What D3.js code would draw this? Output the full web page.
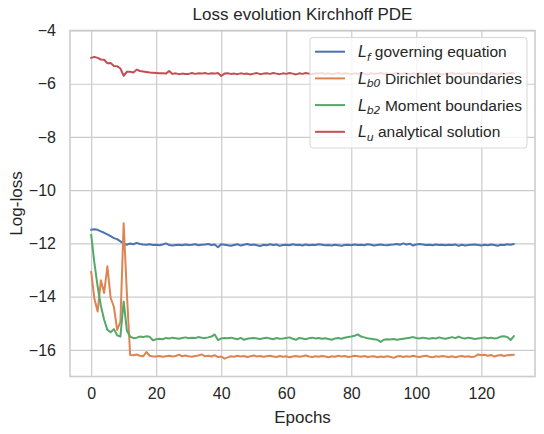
<!DOCTYPE html>
<html>
<head>
<meta charset="utf-8">
<script src="https://cdn.jsdelivr.net/npm/d3@7"></script>
<style>
  body { margin: 0; background: #fff; }
  svg text { font-family: "Liberation Sans", Arial, sans-serif; fill: #262626; }
  .grid line { stroke: #cccccc; stroke-width: 1.2; }
</style>
</head>
<body>
<svg id="chart" width="544" height="434"></svg>
<script>
/* Dati: log-loss per epoca (0..130) */

const epochs = d3.range(0, 131);

const lossLf = [
  -11.49,-11.47,-11.49,-11.55,-11.60,-11.66,-11.73,-11.80,-11.84,-11.92,
  -12.00,-12.05,-12.00,-12.03,-11.98,-12.02,-12.04,-12.05,-12.03,-12.06,
  -12.05,-12.07,-12.04,-12.00,-12.06,-12.08,-12.06,-12.05,-12.07,-12.04,
  -12.06,-12.05,-12.03,-12.07,-12.05,-12.04,-12.02,-12.06,-12.04,-12.14,
  -12.03,-12.05,-12.07,-12.09,-12.06,-12.03,-12.08,-12.05,-12.02,-12.06,
  -12.04,-12.07,-12.10,-12.05,-12.07,-12.03,-12.06,-12.04,-12.09,-12.06,
  -12.05,-12.07,-12.03,-12.06,-12.05,-12.08,-12.04,-12.07,-12.05,-12.06,
  -12.03,-12.05,-12.07,-12.06,-12.08,-12.05,-12.07,-12.09,-12.06,-12.05,
  -12.07,-12.04,-12.06,-12.05,-12.07,-12.03,-12.05,-12.08,-12.06,-12.04,
  -12.06,-12.07,-12.05,-12.04,-12.02,-12.05,-12.00,-12.04,-12.01,-12.08,
  -12.04,-12.02,-12.04,-12.06,-12.05,-12.07,-12.04,-12.06,-12.05,-12.07,
  -12.05,-12.06,-12.04,-12.09,-12.05,-12.08,-12.06,-12.05,-12.04,-12.06,
  -12.08,-12.05,-12.07,-12.04,-12.06,-12.09,-12.05,-12.06,-12.03,-12.05,
  -12.02
];

const lossLb0 = [
  -13.06,-14.08,-14.56,-13.38,-13.86,-12.86,-14.05,-14.38,-15.25,-14.95,
  -11.24,-13.90,-16.19,-16.20,-16.17,-16.22,-16.24,-16.08,-16.22,-16.25,
  -16.25,-16.23,-16.26,-16.24,-16.22,-16.25,-16.23,-16.18,-16.24,-16.21,
  -16.24,-16.26,-16.23,-16.21,-16.17,-16.24,-16.22,-16.25,-16.20,-16.27,
  -16.25,-16.33,-16.28,-16.24,-16.26,-16.22,-16.25,-16.23,-16.27,-16.24,
  -16.21,-16.25,-16.23,-16.26,-16.24,-16.22,-16.25,-16.27,-16.23,-16.26,
  -16.24,-16.28,-16.25,-16.23,-16.26,-16.24,-16.21,-16.25,-16.27,-16.24,
  -16.26,-16.23,-16.25,-16.28,-16.24,-16.26,-16.22,-16.25,-16.23,-16.27,
  -16.25,-16.22,-16.24,-16.26,-16.23,-16.27,-16.25,-16.24,-16.28,-16.25,
  -16.27,-16.24,-16.26,-16.30,-16.25,-16.23,-16.27,-16.24,-16.26,-16.22,
  -16.25,-16.27,-16.24,-16.22,-16.26,-16.28,-16.24,-16.26,-16.23,-16.25,
  -16.27,-16.24,-16.28,-16.25,-16.23,-16.26,-16.24,-16.27,-16.25,-16.17,
  -16.20,-16.18,-16.22,-16.19,-16.25,-16.21,-16.19,-16.23,-16.20,-16.19,
  -16.18
];

const lossLb2 = [
  -11.67,-12.73,-13.62,-14.35,-14.87,-15.25,-15.34,-15.22,-15.45,-15.50,
  -14.18,-15.28,-15.50,-15.56,-15.54,-15.50,-15.52,-15.49,-15.51,-15.64,
  -15.60,-15.58,-15.60,-15.55,-15.57,-15.54,-15.56,-15.58,-15.55,-15.53,
  -15.56,-15.54,-15.55,-15.52,-15.54,-15.55,-15.53,-15.50,-15.42,-15.63,
  -15.57,-15.55,-15.56,-15.54,-15.57,-15.60,-15.55,-15.62,-15.58,-15.56,
  -15.55,-15.57,-15.59,-15.56,-15.54,-15.57,-15.60,-15.55,-15.58,-15.57,
  -15.55,-15.53,-15.58,-15.62,-15.55,-15.57,-15.60,-15.56,-15.54,-15.57,
  -15.55,-15.58,-15.56,-15.59,-15.62,-15.57,-15.55,-15.58,-15.54,-15.52,
  -15.50,-15.47,-15.42,-15.50,-15.53,-15.56,-15.58,-15.60,-15.62,-15.70,
  -15.62,-15.60,-15.61,-15.59,-15.62,-15.60,-15.58,-15.56,-15.54,-15.52,
  -15.55,-15.57,-15.54,-15.56,-15.58,-15.55,-15.57,-15.53,-15.56,-15.58,
  -15.55,-15.52,-15.56,-15.50,-15.55,-15.57,-15.54,-15.56,-15.59,-15.57,
  -15.55,-15.53,-15.56,-15.54,-15.57,-15.55,-15.50,-15.49,-15.52,-15.63,
  -15.48
];

const lossLu = [
  -5.03,-4.99,-5.03,-5.09,-5.10,-5.23,-5.22,-5.33,-5.34,-5.43,
  -5.70,-5.55,-5.55,-5.58,-5.47,-5.52,-5.54,-5.56,-5.58,-5.59,
  -5.60,-5.61,-5.61,-5.62,-5.52,-5.63,-5.61,-5.64,-5.62,-5.63,
  -5.63,-5.60,-5.63,-5.61,-5.62,-5.60,-5.63,-5.61,-5.62,-5.60,
  -5.71,-5.62,-5.61,-5.63,-5.62,-5.64,-5.61,-5.63,-5.62,-5.65,
  -5.62,-5.60,-5.64,-5.62,-5.61,-5.63,-5.60,-5.62,-5.64,-5.61,
  -5.63,-5.60,-5.62,-5.65,-5.61,-5.63,-5.60,-5.62,-5.64,-5.61,
  -5.62,-5.60,-5.63,-5.61,-5.64,-5.62,-5.60,-5.63,-5.61,-5.62,
  -5.64,-5.61,-5.63,-5.60,-5.62,-5.65,-5.61,-5.63,-5.62,-5.60,
  -5.63,-5.61,-5.64,-5.62,-5.60,-5.63,-5.61,-5.62,-5.64,-5.61,
  -5.63,-5.60,-5.62,-5.64,-5.61,-5.63,-5.60,-5.62,-5.65,-5.61,
  -5.62,-5.60,-5.63,-5.61,-5.64,-5.62,-5.60,-5.63,-5.61,-5.62,
  -5.64,-5.61,-5.63,-5.60,-5.62,-5.64,-5.61,-5.63,-5.62,-5.60,
  -5.61
];

const xTicks = [0, 20, 40, 60, 80, 100, 120];
const yTicks = [-16, -14, -12, -10, -8, -6, -4];

/* Serie: etichetta matematica (L + pedice) e testo */
const serie = [
  { valori: lossLf,  pedice: "f",  testo: " governing equation",   colore: "#4c72b0" },
  { valori: lossLb0, pedice: "b0", testo: " Dirichlet boundaries", colore: "#dd8452" },
  { valori: lossLb2, pedice: "b2", testo: " Moment boundaries",    colore: "#55a868" },
  { valori: lossLu,  pedice: "u",  testo: " analytical solution",  colore: "#c44e52" }
];

/* ── LAYOUT ─────────────────────────────────────── */

const svg = d3.select("#chart");
const AX = { left: 70, right: 535, top: 30.5, bottom: 376.5 };

const x = d3.scaleLinear().domain([-6.5, 136.5]).range([AX.left, AX.right]);
const y = d3.scaleLinear().domain([-17, -4]).range([AX.bottom, AX.top]);

const fmt = d => d < 0 ? "\u2212" + Math.abs(d) : String(d);

// Griglia
svg.append("g")
  .attr("class", "grid")
  .attr("transform", `translate(0,${AX.bottom})`)
  .call(d3.axisBottom(x).tickValues(xTicks).tickSize(-(AX.bottom - AX.top)).tickFormat(""))
  .call(g => g.select(".domain").remove());

svg.append("g")
  .attr("class", "grid")
  .attr("transform", `translate(${AX.left},0)`)
  .call(d3.axisLeft(y).tickValues(yTicks).tickSize(-(AX.right - AX.left)).tickFormat(""))
  .call(g => g.select(".domain").remove());

// Etichette assi
svg.append("g")
  .attr("transform", `translate(0,${AX.bottom})`)
  .call(d3.axisBottom(x).tickValues(xTicks).tickSize(0).tickPadding(11).tickFormat(fmt))
  .call(g => g.select(".domain").remove())
  .selectAll("text").style("font-size", "16px").attr("fill", "#262626");

svg.append("g")
  .attr("transform", `translate(${AX.left},0)`)
  .call(d3.axisLeft(y).tickValues(yTicks).tickSize(0).tickPadding(14).tickFormat(fmt))
  .call(g => g.select(".domain").remove())
  .selectAll("text").style("font-size", "16px").attr("fill", "#262626");

// Linee
const linea = d3.line()
  .x((d, i) => x(epochs[i]))
  .y(d => y(d));

svg.append("defs").append("clipPath").attr("id", "clip")
  .append("rect")
  .attr("x", AX.left).attr("y", AX.top)
  .attr("width", AX.right - AX.left).attr("height", AX.bottom - AX.top);

const gLinee = svg.append("g").attr("clip-path", "url(#clip)");
serie.forEach(s => {
  gLinee.append("path")
    .datum(s.valori)
    .attr("fill", "none")
    .attr("stroke", s.colore)
    .attr("stroke-width", 2)
    .attr("stroke-linejoin", "round")
    .attr("stroke-linecap", "round")
    .attr("d", linea);
});

// Cornice
svg.append("rect")
  .attr("x", AX.left).attr("y", AX.top)
  .attr("width", AX.right - AX.left).attr("height", AX.bottom - AX.top)
  .attr("fill", "none")
  .attr("stroke", "#cccccc")
  .attr("stroke-width", 1.6);

// Titoli
svg.append("text")
  .attr("x", (AX.left + AX.right) / 2).attr("y", 20)
  .attr("text-anchor", "middle")
  .style("font-size", "17px")
  .text("Loss evolution Kirchhoff PDE");

svg.append("text")
  .attr("x", (AX.left + AX.right) / 2).attr("y", 423)
  .attr("text-anchor", "middle")
  .style("font-size", "17px")
  .text("Epochs");

svg.append("text")
  .attr("transform", `translate(22,${(AX.top + AX.bottom) / 2}) rotate(-90)`)
  .attr("text-anchor", "middle")
  .style("font-size", "17px")
  .text("Log-loss");

/* ── LEGENDA ───────────────────────────────────── */

const LEG = { x: 310, y: 37.5, w: 217, h: 110.5, passo: 26.7 };
const gLeg = svg.append("g");

gLeg.append("rect")
  .attr("x", LEG.x).attr("y", LEG.y)
  .attr("width", LEG.w).attr("height", LEG.h)
  .attr("rx", 3)
  .attr("fill", "white").attr("fill-opacity", 0.8)
  .attr("stroke", "#d6d6d6").attr("stroke-width", 1);

serie.forEach((s, i) => {
  const cy = 51.7 + i * LEG.passo;
  gLeg.append("line")
    .attr("x1", 315).attr("x2", 345)
    .attr("y1", cy).attr("y2", cy)
    .attr("stroke", s.colore).attr("stroke-width", 2);

  const t = gLeg.append("text")
    .attr("x", 358).attr("y", cy + 5.5)
    .style("font-size", "15.5px");
  t.append("tspan")
    .style("font-family", "'DejaVu Sans', sans-serif")
    .style("font-style", "italic")
    .text("L");
  t.append("tspan")
    .style("font-family", "'DejaVu Sans', sans-serif")
    .style("font-style", "italic")
    .style("font-size", "11px")
    .attr("dy", 3.5)
    .text(s.pedice);
  t.append("tspan")
    .attr("dy", -3.5)
    .text(s.testo);
});
</script>
</body>
</html>
